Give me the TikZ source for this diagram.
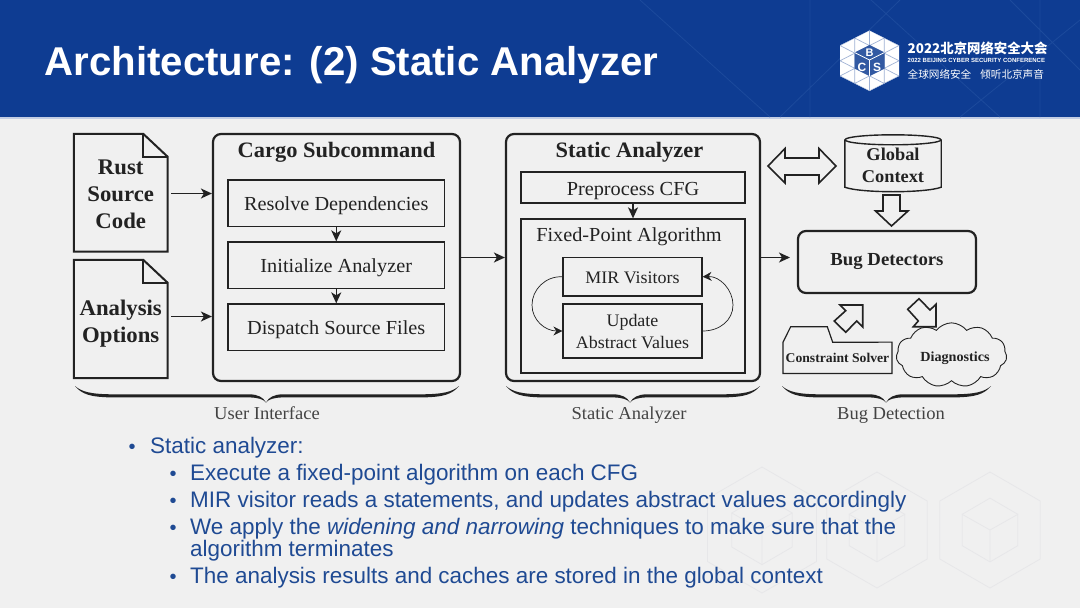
\documentclass[tikz,border=0pt]{standalone}
\usepackage{fontspec}
\setmainfont{Liberation Sans}
\newfontfamily\dfont[FakeStretch=1.02]{Liberation Serif}
\newfontfamily\cjkfont{Noto Sans CJK SC}
\usetikzlibrary{arrows.meta,calc,shapes.symbols}
\definecolor{bannerblue}{HTML}{0E3C92}
\definecolor{bannerline}{HTML}{1C4A9C}
\definecolor{pagebg}{HTML}{F0F0F0}
\definecolor{bodyblue}{HTML}{1F4A93}
\definecolor{ink}{HTML}{222222}
\definecolor{wm}{HTML}{E7E7E9}
\definecolor{meshline}{HTML}{9FB2D4}
\newcommand{\fs}[2]{\fontsize{#1}{#2}\selectfont}
\newcommand{\bl}[2]{\raisebox{-#1}[0pt][0pt]{#2}}
\newcommand{\stacked}[2]{\raisebox{-#1}[0pt][0pt]{\begin{tabular}[b]{@{}c@{}}#2\end{tabular}}}
\newcommand{\curlybrace}[3]{%
  \fill[ink] (#1,386) .. controls (#1+7,392) and (#1+16,394) .. (#1+36,394.3)
    -- (#3-16,394.3) .. controls (#3-8,394.7) and (#3-3,397) .. (#3,402.5)
    .. controls (#3+3,397) and (#3+8,394.7) .. (#3+16,394.3)
    -- (#2-36,394.3) .. controls (#2-16,394) and (#2-7,392) .. (#2,386)
    .. controls (#2-7,394.5) and (#2-16,397) .. (#2-36,397.4)
    -- (#3+16,397.4) .. controls (#3+8,397.8) and (#3+3,399) .. (#3,402.5)
    .. controls (#3-3,399) and (#3-8,397.8) .. (#3-16,397.4)
    -- (#1+36,397.4) .. controls (#1+16,397) and (#1+7,394.5) .. (#1,386) -- cycle;}
\tikzset{
  outerbox/.style={draw=ink,line width=2.2pt,rounded corners=8pt,inner sep=0pt},
  innerbox/.style={draw=ink,line width=1.3pt,inner sep=0pt,align=center,font=\dfont\fs{19.9}{22},text=ink},
  docbox/.style={inner sep=0pt,align=center,font=\dfont\bfseries\fs{22.3}{27},text=ink},
  docline/.style={draw=ink,line width=2pt,line join=miter},
  headtext/.style={inner sep=0pt,anchor=base,font=\dfont\bfseries\fs{22}{24},text=ink},
  subhead/.style={inner sep=0pt,anchor=base,font=\dfont\fs{19.9}{22},text=ink},
  bracelabel/.style={inner sep=0pt,anchor=base,font=\dfont\fs{18.2}{20},text=ink!85},
  conn/.style={draw=ink,line width=1.5pt,-{Stealth[length=11pt,width=10pt,inset=3pt]}},
  loopconn/.style={draw=ink,line width=.7pt,-{Stealth[length=9pt,width=9pt,inset=3pt]}},
  blockarrow/.style={draw=ink,line width=1.6pt,fill=none,line join=miter},
  wmline/.style={draw=wm,line width=.8pt},
  bodytext/.style={inner sep=0pt,anchor=base west,text=bodyblue,font=\fs{22.45}{22}},
  bullet/.style={inner sep=0pt,anchor=base west,text=bodyblue,font=\fs{20}{22}},
  logotext/.style={inner sep=0pt,text=white},
}
\begin{document}
\begin{tikzpicture}[x=1pt,y=-1pt]
\useasboundingbox (0,0) rectangle (1080,608);
% backgrounds
\fill[pagebg] (0,0) rectangle (1080,608);
% watermark hexagons
\foreach \cx/\cy/\r in {762/530/63,877/530/58,990/530/58}{
  \draw[wmline] (\cx,\cy-\r) -- (\cx+.866*\r,\cy-.5*\r) -- (\cx+.866*\r,\cy+.5*\r)
     -- (\cx,\cy+\r) -- (\cx-.866*\r,\cy+.5*\r) -- (\cx-.866*\r,\cy-.5*\r) -- cycle;
  \draw[wmline] (\cx,\cy-.55*\r) -- (\cx+.48*\r,\cy-.27*\r) -- (\cx+.48*\r,\cy+.27*\r)
     -- (\cx,\cy+.55*\r) -- (\cx-.48*\r,\cy+.27*\r) -- (\cx-.48*\r,\cy-.27*\r) -- cycle;
  \draw[wmline] (\cx-.48*\r,\cy-.27*\r) -- (\cx,\cy) -- (\cx+.48*\r,\cy-.27*\r) (\cx,\cy) -- (\cx,\cy+.55*\r);
}
\fill[bannerblue] (0,0) rectangle (1080,117);
\fill[white!75!bannerblue] (0,117) rectangle (1080,118.5);
\begin{scope}
\clip (0,0) rectangle (1080,117);
\draw[bannerline,line width=.8pt] (860,-10) -- (1000,117) (1080,20) -- (960,117) (780,117) -- (900,0) (1010,0) -- (1080,70) (640,0) -- (770,117) (1040,0) -- (1040,117) (810,0) -- (810,117);
\end{scope}
% title
\node[inner sep=0pt,anchor=base west,text=white,font=\bfseries\fs{40.2}{42}] (title) at (44.5,75.5) {Architecture: (2) Static Analyzer};
% logo
\fill[white] (869.5,30.5) -- (899,45.5) -- (899,76) -- (869.5,91) -- (840,76) -- (840,45.5) -- cycle;
\begin{scope}
\clip (869.5,30.5) -- (899,45.5) -- (899,76) -- (869.5,91) -- (840,76) -- (840,45.5) -- cycle;
\draw[meshline,line width=.7pt]
  (840,30.5) -- (899,60.75) (840,45.5) -- (899,76) (840,60.75) -- (899,91)
  (840,15) -- (899,45.5) (840,76) -- (899,106)
  (899,30.5) -- (840,60.75) (899,45.5) -- (840,76) (899,60.75) -- (840,91)
  (899,15) -- (840,45.5) (899,76) -- (840,106)
  (854.75,30) -- (854.75,91) (869.5,30) -- (869.5,91) (884.25,30) -- (884.25,91);
\end{scope}
\fill[bannerblue!85!white] (869.5,45) -- (884.5,52.5) -- (884.5,68.5) -- (869.5,76) -- (854.5,68.5) -- (854.5,52.5) -- cycle;
\draw[white,line width=.7pt] (854.5,52.5) -- (869.5,60) -- (884.5,52.5) (869.5,60) -- (869.5,76);
\node[logotext,font=\bfseries\fs{11}{12}] (logoB) at (869.5,52.5) {B};
\node[logotext,font=\bfseries\fs{12}{12}] (logoC) at (862,67) {C};
\node[logotext,font=\bfseries\fs{12}{12}] (logoS) at (877,67) {S};
\node[logotext,anchor=west,font=\cjkfont\bfseries\fs{13.4}{14}] (logo1) at (907.5,48) {2022北京网络安全大会};
\node[logotext,anchor=west,font=\bfseries\fs{6}{7}] (logo2) at (907.5,60) {2022 BEIJING CYBER SECURITY CONFERENCE};
\node[logotext,anchor=west,font=\cjkfont\fs{10.6}{12}] (logo3) at (907.5,74.5) {全球网络安全\hspace{9pt}倾听北京声音};

% documents
\node[docbox,minimum width=93.5pt,minimum height=117.5pt] (rust) at (120.75,192.75) {\stacked{35.75pt}{Rust\\Source\\Code}};
\draw[docline] (rust.north west) -- ($(rust.north east)+(-24.5,0)$) -- ($(rust.north east)+(0,23)$) -- (rust.south east) -- (rust.south west) -- cycle;
\draw[docline] ($(rust.north east)+(-24.5,0)$) -- ($(rust.north east)+(-24.5,23)$) -- ($(rust.north east)+(0,23)$);
\node[docbox,minimum width=93.5pt,minimum height=118pt] (opts) at (120.75,319) {\stacked{23.5pt}{Analysis\\Options}};
\draw[docline] (opts.north west) -- ($(opts.north east)+(-24.5,0)$) -- ($(opts.north east)+(0,23)$) -- (opts.south east) -- (opts.south west) -- cycle;
\draw[docline] ($(opts.north east)+(-24.5,0)$) -- ($(opts.north east)+(-24.5,23)$) -- ($(opts.north east)+(0,23)$);

% cargo
\node[outerbox,minimum width=247pt,minimum height=247pt] (cargo) at (336.5,257.5) {};
\node[headtext] (cargohead) at (336.5,157.5) {Cargo Subcommand};
\node[innerbox,minimum width=216.5pt,minimum height=46.5pt] (resolve) at (336.25,203.25) {\bl{7.25pt}{Resolve Dependencies}};
\node[innerbox,minimum width=216.5pt,minimum height=46.5pt] (init) at (336.25,265.25) {\bl{7.25pt}{Initialize Analyzer}};
\node[innerbox,minimum width=216.5pt,minimum height=46.5pt] (dispatch) at (336.25,327.25) {\bl{7.25pt}{Dispatch Source Files}};
\draw[conn] (resolve) -- (init);
\draw[conn] (init) -- (dispatch);
\coordinate (rustout) at (171,193.5);
\coordinate (optsout) at (171,316.5);
\draw[conn] (rustout) -- (rustout -| cargo.west);
\draw[conn] (optsout) -- (optsout -| cargo.west);

% static analyzer
\node[outerbox,minimum width=254pt,minimum height=247pt] (static) at (633,257.5) {};
\node[headtext] (statichead) at (629.5,157.5) {Static Analyzer};
\node[innerbox,minimum width=224pt,minimum height=31pt] (pre) at (633,187.5) {\bl{8pt}{Preprocess CFG}};
\node[draw=ink,line width=1.3pt,inner sep=0pt,minimum width=224pt,minimum height=154pt] (fixed) at (633,296) {};
\node[subhead] (fixedhead) at (629,241.5) {Fixed-Point Algorithm};
\node[innerbox,minimum width=139pt,minimum height=38.5pt,font=\dfont\fs{17.6}{22}] (mir) at (632.5,276.75) {\bl{6.75pt}{MIR Visitors}};
\node[innerbox,minimum width=139pt,minimum height=54pt,font=\dfont\fs{17.6}{22}] (update) at (632.5,331) {\stacked{17.5pt}{Update\\Abstract Values}};
\draw[conn] (pre) -- (fixed);
\draw[conn] (cargo.east) -- (static.west);
\draw[loopconn] (mir.west) .. controls (545,276) and (532,290) .. (532,305) .. controls (532,320) and (545,331) .. (update.west);
\draw[loopconn] (update.east) .. controls (720,331) and (733,320) .. (733,305) .. controls (733,290) and (720,276) .. (mir.east);

% bug detection
\node[outerbox,minimum width=178pt,minimum height=62pt,font=\dfont\bfseries\fs{18.4}{20},text=ink] (bug) at (887,262) {\bl{3.5pt}{Bug Detectors}};
\coordinate (bugin) at (790,257.5);
\draw[conn] (static.east) -- (bugin);
% cylinder
\node[inner sep=0pt,minimum width=96pt,minimum height=56pt,align=center,font=\dfont\bfseries\fs{18}{22},text=ink] (ctx) at (893,163) {\stacked{19.5pt}{Global\\Context}};
\draw[docline,line width=1.4pt] ($(ctx.north west)+(0,5)$) -- ($(ctx.south west)+(0,-4)$) .. controls ($(ctx.south west)+(16,2)$) and ($(ctx.south east)+(-16,2)$) .. ($(ctx.south east)+(0,-4)$) -- ($(ctx.north east)+(0,5)$);
\draw[docline,line width=1.4pt] ($(ctx.north)+(0,5)$) ellipse [x radius=48pt,y radius=5pt];
% block arrows
\draw[blockarrow] (768,166) -- (785,148.5) -- (785,158) -- (819,158) -- (819,148.5) -- (836,166) -- (819,183) -- (819,175) -- (785,175) -- (785,183) -- cycle;
\draw[blockarrow] (883,195) -- (900,195) -- (900,211) -- (908,211) -- (891.5,226) -- (875.5,211) -- (883,211) -- cycle;
\draw[blockarrow] (862.7,305) -- (840,305) -- (845.7,310.7) -- (834.3,321) -- (845.7,332.3) -- (856.7,321) -- (862.7,327) -- cycle;
\draw[blockarrow] (936,326.7) -- (913.3,326.7) -- (918.3,321) -- (907.7,309.3) -- (919,298.7) -- (930,310) -- (936,304.3) -- cycle;
% folder
\node[inner sep=0pt,minimum width=108.5pt,minimum height=31pt,font=\dfont\bfseries\fs{13.4}{16},text=ink] (solver) at (837.5,357.8) {\bl{4.7pt}{Constraint Solver}};
\draw[docline,line width=1.2pt] (solver.south west) -- (solver.north west) -- (790.7,326.7) -- (827.3,326.7) -- (832.7,342.3) -- (solver.north east) -- (solver.south east) -- cycle;
% cloud
\node[cloud,draw=ink,line width=.9pt,cloud puffs=11,cloud puff arc=105,aspect=2.1,inner sep=0pt,minimum width=104pt,minimum height=50pt,font=\dfont\bfseries\fs{13.9}{16},text=ink] (diag) at (951.5,355) {\bl{6pt}{\hspace{7pt}Diagnostics}};
% braces
\curlybrace{75}{459}{266}
\curlybrace{506}{760}{630}
\curlybrace{782}{991}{886}
\node[bracelabel] (l1) at (267,419) {User Interface};
\node[bracelabel] (l2) at (629,419) {Static Analyzer};
\node[bracelabel] (l3) at (891,419) {Bug Detection};

% body
\node[bullet] (b0) at (128.5,453) {•};
\node[bodytext] (t0) at (150,453) {Static analyzer:};
\node[bullet] (b1) at (169.5,480) {•};
\node[bodytext] (t1) at (190,480) {Execute a fixed-point algorithm on each CFG};
\node[bullet] (b2) at (169.5,507) {•};
\node[bodytext] (t2) at (190,507) {MIR visitor reads a statements, and updates abstract values accordingly};
\node[bullet] (b3) at (169.5,534) {•};
\node[bodytext] (t3) at (190,534) {We apply the \emph{widening and narrowing} techniques to make sure that the};
\node[bodytext] (t3b) at (190,556) {algorithm terminates};
\node[bullet] (b4) at (169.5,583) {•};
\node[bodytext] (t4) at (190,583) {The analysis results and caches are stored in the global context};
\end{tikzpicture}
\end{document}
